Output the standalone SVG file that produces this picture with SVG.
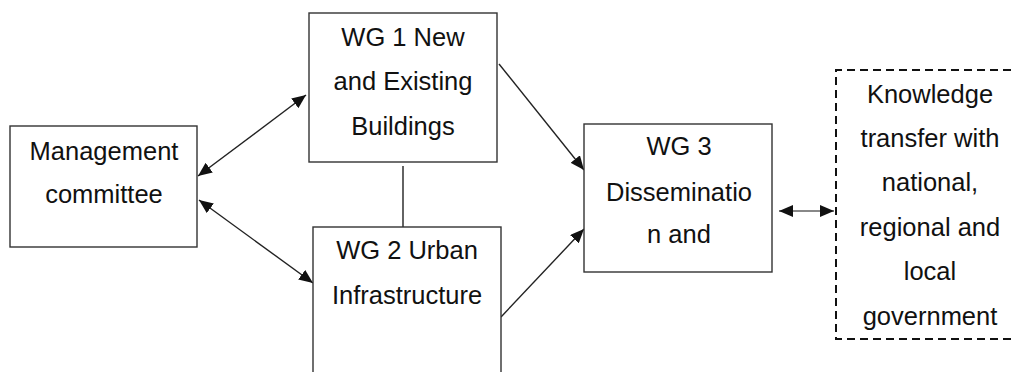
<svg xmlns="http://www.w3.org/2000/svg" width="1016" height="372" viewBox="0 0 1016 372">
<defs>
<style>
.box{fill:#fff;stroke:#333;stroke-width:1.4}
.dash{fill:none;stroke:#111;stroke-width:2;stroke-dasharray:8,5}
.t{font-family:"Liberation Sans",Arial,sans-serif;font-size:25.5px;fill:#111;text-anchor:middle}
.ln{fill:none;stroke:#222;stroke-width:1.4}
.gl{fill:none;stroke:#888;stroke-width:2}
</style>
<marker id="ah" markerUnits="userSpaceOnUse" markerWidth="14" markerHeight="12" viewBox="0 0 14 12" refX="14" refY="6" orient="auto-start-reverse">
<path d="M0,0 L14,6 L0,12 z" fill="#111"/>
</marker>
</defs>
<rect width="1016" height="372" fill="#fff"/>
<g id="connectors">
<line class="ln" x1="198" y1="176" x2="306" y2="95" marker-start="url(#ah)" marker-end="url(#ah)"/>
<line class="ln" x1="199" y1="200" x2="313" y2="283" marker-start="url(#ah)" marker-end="url(#ah)"/>
<line class="ln" x1="403" y1="166" x2="403" y2="227"/>
<line class="ln" x1="499" y1="64" x2="584" y2="170" marker-end="url(#ah)"/>
<line class="ln" x1="501" y1="317" x2="584" y2="229" marker-end="url(#ah)"/>
<line class="gl" x1="779" y1="211" x2="834" y2="211" marker-start="url(#ah)" marker-end="url(#ah)"/>
</g>
<g id="management">
<rect class="box" x="10" y="126" width="187" height="121"/>
<text class="t" x="104" y="160">Management</text>
<text class="t" x="104" y="203">committee</text>
</g>
<g id="wg1">
<rect class="box" x="309" y="13" width="188" height="149"/>
<text class="t" x="403" y="46">WG 1 New</text>
<text class="t" x="403" y="90">and Existing</text>
<text class="t" x="403" y="135">Buildings</text>
</g>
<g id="wg2">
<rect class="box" x="313" y="227" width="188" height="180"/>
<text class="t" x="407" y="259">WG 2 Urban</text>
<text class="t" x="407" y="304">Infrastructure</text>
</g>
<g id="wg3">
<rect class="box" x="584" y="124" width="188" height="148"/>
<text class="t" x="679" y="155">WG 3</text>
<text class="t" x="679" y="201">Disseminatio</text>
<text class="t" x="679" y="243">n and</text>
</g>
<g id="knowledge">
<path class="dash" d="M1024,70 L836,70 L836,339 L1024,339"/>
<text class="t" x="930" y="103">Knowledge</text>
<text class="t" x="930" y="147">transfer with</text>
<text class="t" x="930" y="191">national,</text>
<text class="t" x="930" y="236">regional and</text>
<text class="t" x="930" y="280">local</text>
<text class="t" x="930" y="325">government</text>
</g>
</svg>
